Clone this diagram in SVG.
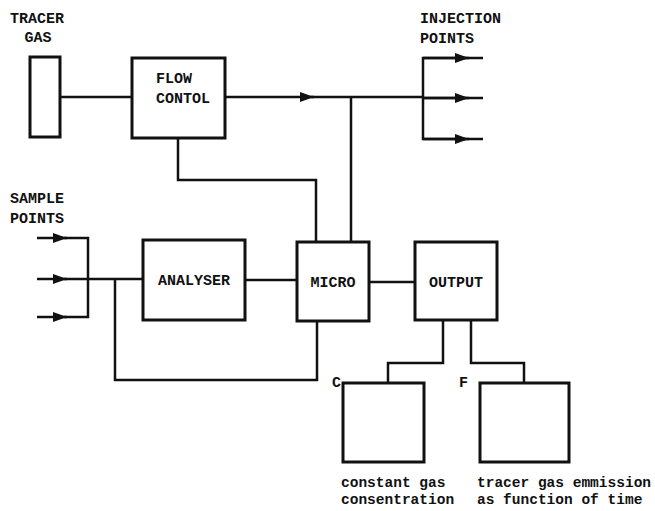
<svg xmlns="http://www.w3.org/2000/svg" width="655" height="511" viewBox="0 0 655 511">
<style>
.box{fill:none;stroke:#111;stroke-width:3}
.ln{fill:none;stroke:#111;stroke-width:2.5}
.lbl{font-family:"Liberation Mono","DejaVu Sans Mono",monospace;font-weight:bold;font-size:15px;fill:#111}
.cap{font-family:"Liberation Mono","DejaVu Sans Mono",monospace;font-weight:bold;font-size:14.5px;fill:#111}
</style>
<defs>
<marker id="ah" viewBox="0 0 14 10" refX="14" refY="5" markerWidth="14" markerHeight="10" markerUnits="userSpaceOnUse" orient="auto">
<path d="M0,0 L14,5 L0,10 Z" fill="#111"/>
</marker>
</defs>
<rect width="655" height="511" fill="#fff"/>
<g id="labels">
<text class="lbl" x="37" y="23" text-anchor="middle">TRACER</text>
<text class="lbl" x="38" y="42" text-anchor="middle">GAS</text>
<text class="lbl" x="420" y="23">INJECTION</text>
<text class="lbl" x="420" y="43">POINTS</text>
<text class="lbl" x="10" y="203">SAMPLE</text>
<text class="lbl" x="10" y="223">POINTS</text>
<text class="lbl" x="332" y="387">C</text>
<text class="lbl" x="459" y="387">F</text>
</g>
<g id="tracer-gas"><rect class="box" x="30" y="57" width="30" height="80"/></g>
<g id="flow-control"><rect class="box" x="132" y="58" width="93" height="80"/>
<text class="lbl" x="156" y="83">FLOW</text><text class="lbl" x="156" y="103">CONTOL</text></g>
<g id="analyser"><rect class="box" x="143" y="240" width="102" height="80"/>
<text class="lbl" x="194" y="285" text-anchor="middle">ANALYSER</text></g>
<g id="micro"><rect class="box" x="297" y="242" width="72" height="79"/>
<text class="lbl" x="333" y="287" text-anchor="middle">MICRO</text></g>
<g id="output"><rect class="box" x="415" y="242" width="82" height="78"/>
<text class="lbl" x="456" y="287" text-anchor="middle">OUTPUT</text></g>
<g id="display-c"><rect class="box" x="343" y="383" width="81" height="79"/>
<text class="cap" x="341" y="487">constant gas</text><text class="cap" x="341" y="504">consentration</text></g>
<g id="display-f"><rect class="box" x="480" y="383" width="89" height="79"/>
<text class="cap" x="477" y="487">tracer gas emmission</text><text class="cap" x="477" y="504">as function of time</text></g>
<g id="connectors">
<line class="ln" x1="60" y1="97" x2="132" y2="97"/>
<line class="ln" x1="225" y1="97" x2="314" y2="97" marker-end="url(#ah)"/>
<line class="ln" x1="311" y1="97" x2="423" y2="97"/>
<line class="ln" x1="351" y1="97" x2="351" y2="242"/>
<polyline class="ln" points="483,58 423,58 423,139 483,139"/>
<line class="ln" x1="423" y1="98" x2="483" y2="98"/>
<line class="ln" x1="423" y1="58" x2="469" y2="58" marker-end="url(#ah)"/>
<line class="ln" x1="423" y1="98" x2="469" y2="98" marker-end="url(#ah)"/>
<line class="ln" x1="423" y1="139" x2="469" y2="139" marker-end="url(#ah)"/>
<polyline class="ln" points="178,138 178,180 316,180 316,242"/>
<line class="ln" x1="37" y1="238" x2="67" y2="238" marker-end="url(#ah)"/>
<line class="ln" x1="37" y1="279" x2="67" y2="279" marker-end="url(#ah)"/>
<line class="ln" x1="37" y1="317" x2="67" y2="317" marker-end="url(#ah)"/>
<polyline class="ln" points="64,238 88,238 88,317 64,317"/>
<line class="ln" x1="64" y1="279" x2="143" y2="279"/>
<line class="ln" x1="245" y1="280" x2="297" y2="280"/>
<polyline class="ln" points="115,279 115,380 317,380 317,321"/>
<line class="ln" x1="369" y1="282" x2="415" y2="282"/>
<polyline class="ln" points="443,320 443,363 388,363 388,383"/>
<polyline class="ln" points="471,320 471,363 524,363 524,383"/>
</g>
</svg>
